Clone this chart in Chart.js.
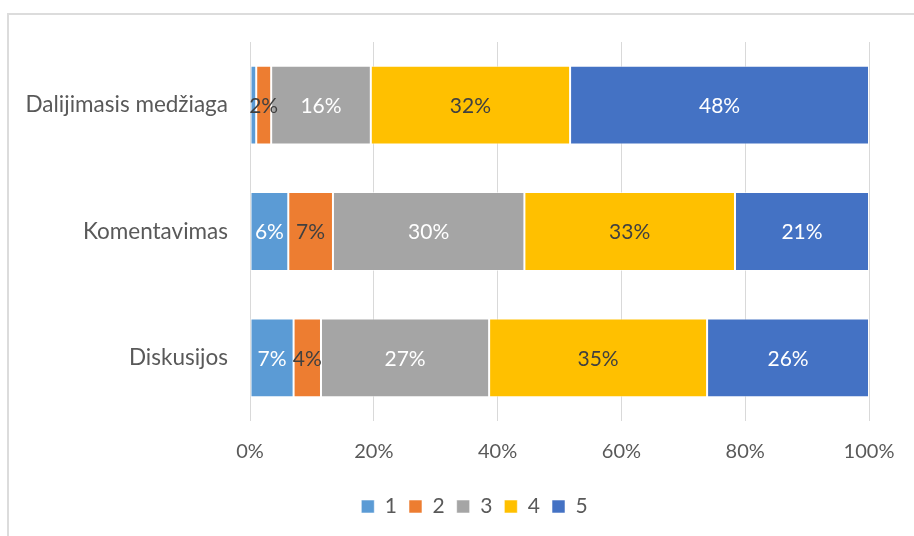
<!DOCTYPE html>
<html>
<head>
<meta charset="utf-8">
<script src="https://cdn.jsdelivr.net/npm/chart.js@4"></script>
<style>
  html, body { margin: 0; padding: 0; background: #fff; overflow: hidden; }
  #wrap { position: relative; width: 914px; height: 536px; }
  #frame { position: absolute; left: 7px; top: 13px; width: 1000px; height: 600px;
           border-left: 2px solid #dcdcdc; border-top: 2px solid #dcdcdc; box-sizing: border-box; }
  canvas { position: absolute; left: 0; top: 0; }
</style>
</head>
<body>
<div id="wrap">
  <div id="frame"></div>
  <canvas id="c" width="914" height="536"></canvas>
</div>
<script>
// Categories (top to bottom)
const categories = ['Dalijimasis medžiaga', 'Komentavimas', 'Diskusijos'];
// Series names
const seriesNames = ['1', '2', '3', '4', '5'];
// Values per series (percent), one value per category
const series1 = [1, 6, 7];
const series2 = [2.4, 7, 4.4];
const series3 = [16, 30, 27];
const series4 = [32, 33, 35];
const series5 = [48, 21, 26];
// X axis ticks
const xTicks = [0, 20, 40, 60, 80, 100];

const seriesValues = [series1, series2, series3, series4, series5];
const colors = ['#5B9BD5', '#ED7D31', '#A5A5A5', '#FFC000', '#4472C4'];
const labelColors = ['#ffffff', '#404040', '#ffffff', '#404040', '#ffffff'];

// 100% stacked: normalise each category by its total
const totals = categories.map((_, i) => seriesValues.reduce((s, arr) => s + arr[i], 0));

const FONT = 'Lato, "Open Sans", sans-serif';
Chart.defaults.font.family = FONT;
Chart.defaults.font.size = 20;
Chart.defaults.color = '#595959';

const dataLabels = {
  id: 'dataLabels',
  afterDatasetsDraw(chart) {
    const ctx = chart.ctx;
    ctx.save();
    ctx.font = '21px ' + FONT;
    ctx.textAlign = 'center';
    ctx.textBaseline = 'middle';
    chart.data.datasets.forEach((ds, di) => {
      const meta = chart.getDatasetMeta(di);
      meta.data.forEach((bar, i) => {
        const w = Math.abs(bar.x - bar.base);
        if (w < 10) return;
        const p = bar.getCenterPoint();
        ctx.fillStyle = labelColors[di];
        ctx.fillText(Math.round(ds.rawValues[i]) + '%', p.x, p.y + 1);
      });
    });
    ctx.restore();
  }
};

// Centre the legend like the original (over a wider chart frame)
const legendShift = {
  id: 'legendShift',
  afterLayout(chart) {
    const lg = chart.legend;
    if (lg) { lg.left = 80; lg.right = chart.chartArea.right; lg.width = lg.right - lg.left; }
  }
};

new Chart(document.getElementById('c'), {
  type: 'bar',
  data: {
    labels: categories,
    datasets: seriesNames.map((name, k) => ({
      label: name,
      rawValues: seriesValues[k],
      data: seriesValues[k].map((v, i) => v / totals[i] * 100),
      backgroundColor: colors[k],
      borderColor: 'rgba(255,255,255,0.55)',
      borderWidth: 1,
      borderSkipped: false,
      barPercentage: 0.624,
      categoryPercentage: 1
    }))
  },
  options: {
    indexAxis: 'y',
    responsive: false,
    animation: false,
    layout: { padding: { left: 0, right: 45, top: 42, bottom: 9 } },
    plugins: {
      tooltip: { enabled: false },
      legend: {
        position: 'bottom',
        labels: { boxWidth: 13, boxHeight: 13, padding: 12, color: '#595959', font: { size: 21 } }
      }
    },
    scales: {
      x: {
        stacked: true,
        min: 0, max: 100,
        afterBuildTicks(scale) { scale.ticks = xTicks.map(v => ({ value: v })); },
        afterFit(scale) { scale.height = 63; },
        ticks: { padding: 19, callback: v => v + '%', color: '#595959' },
        grid: { color: '#d9d9d9', lineWidth: 1, drawTicks: false },
        border: { display: false }
      },
      y: {
        stacked: true,
        afterFit(scale) { scale.width = 250; },
        ticks: { padding: 22, color: '#595959', font: { size: 22.5 } },
        grid: { display: false, drawTicks: false },
        border: { display: false }
      }
    }
  },
  plugins: [dataLabels, legendShift]
});
</script>
</body>
</html>
